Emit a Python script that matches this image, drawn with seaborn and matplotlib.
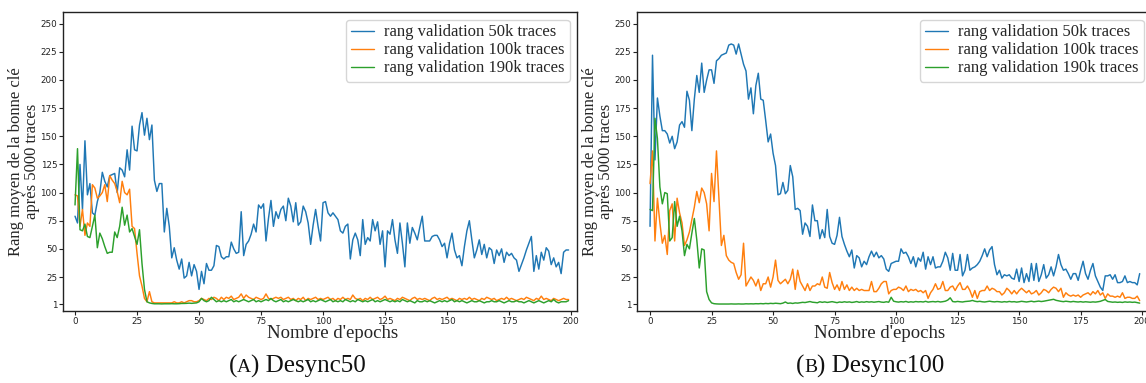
import numpy as np
import pandas as pd
import matplotlib
matplotlib.use("Agg")
import matplotlib.pyplot as plt
import seaborn as sns
from matplotlib.offsetbox import TextArea, HPacker, AnnotationBbox

# ---------------------------------------------------------------- data
series_labels = ["rang validation 50k traces",
                 "rang validation 100k traces",
                 "rang validation 190k traces"]

# Desync50
d50_50k = [
    79, 73, 125, 85, 146, 98, 108, 82, 80, 92,
    100, 118, 110, 105, 115, 116, 117, 100, 122, 120,
    114, 138, 120, 159, 138, 137, 160, 171, 151, 166,
    147, 160, 111, 101, 108, 108, 65, 86, 70, 42,
    51, 40, 32, 41, 24, 26, 38, 26, 36, 30,
    14, 30, 19, 37, 31, 31, 35, 53, 52, 43,
    41, 43, 43, 56, 50, 46, 47, 83, 44, 54,
    57, 63, 72, 65, 89, 86, 90, 57, 77, 93,
    70, 83, 77, 85, 88, 75, 95, 88, 74, 91,
    71, 74, 88, 83, 73, 54, 71, 85, 70, 57,
    91, 92, 82, 79, 82, 79, 76, 66, 64, 70,
    72, 41, 58, 64, 58, 44, 76, 54, 60, 57,
    76, 66, 74, 54, 66, 34, 66, 63, 76, 58,
    46, 73, 55, 34, 73, 55, 69, 64, 58, 69,
    79, 57, 57, 57, 61, 62, 62, 58, 52, 55,
    42, 55, 64, 49, 42, 44, 35, 52, 66, 75,
    58, 42, 49, 58, 45, 54, 42, 51, 49, 37,
    49, 44, 50, 38, 47, 44, 46, 42, 40, 30,
    36, 42, 49, 55, 61, 30, 44, 32, 47, 40,
    51, 48, 36, 42, 34, 38, 28, 47, 49, 49,
]
d50_100k = [
    98, 97, 70, 85, 62, 73, 70, 107, 104, 95,
    97, 100, 107, 92, 115, 111, 108, 101, 91, 110,
    100, 98, 103, 70, 68, 46, 26, 17, 6, 3,
    12, 3, 2, 2, 2, 2, 2, 2, 2, 2,
    3, 2, 2, 3, 2, 3, 4, 4, 3, 3,
    4, 6, 5, 4, 6, 5, 7, 6, 4, 7,
    5, 7, 6, 8, 5, 6, 7, 10, 6, 9,
    7, 6, 5, 7, 6, 5, 6, 10, 6, 5,
    6, 7, 6, 7, 5, 6, 7, 5, 6, 4,
    6, 5, 7, 4, 6, 5, 6, 7, 5, 6,
    5, 6, 7, 5, 6, 4, 6, 5, 7, 5,
    6, 5, 9, 6, 5, 6, 4, 6, 5, 7,
    5, 6, 7, 5, 6, 8, 5, 6, 5, 4,
    6, 5, 7, 6, 5, 4, 6, 7, 5, 6,
    5, 6, 5, 4, 6, 7, 5, 6, 5, 6,
    7, 5, 6, 5, 4, 6, 5, 6, 5, 7,
    5, 6, 5, 4, 6, 5, 7, 6, 5, 6,
    4, 5, 6, 5, 7, 5, 6, 5, 4, 5,
    6, 5, 7, 6, 5, 4, 6, 5, 8, 5,
    6, 5, 4, 6, 5, 4, 5, 6, 5, 5,
]
d50_190k = [
    89, 139, 67, 66, 72, 61, 60, 70, 80, 51,
    64, 59, 52, 46, 47, 47, 65, 60, 70, 87,
    71, 80, 65, 68, 61, 54, 67, 37, 14, 3,
    2, 1.5, 1.2, 1.2, 1.2, 1.1, 1.2, 1.2, 1.2, 1.3,
    1.2, 1.2, 1.3, 1.5, 1.5, 1.6, 1.8, 1.6, 1.8, 2,
    3, 6, 4, 3, 4, 7, 5, 3, 4, 3,
    4, 3, 4, 5, 3, 4, 3, 4, 5, 4,
    3, 4, 5, 3, 4, 3, 4, 5, 4, 6,
    4, 3, 4, 5, 3, 4, 3, 4, 5, 4,
    3, 4, 3, 4, 5, 3, 4, 3, 4, 5,
    4, 3, 4, 5, 3, 4, 3, 4, 3, 5,
    4, 3, 4, 3, 5, 4, 3, 4, 3, 4,
    5, 3, 4, 3, 4, 5, 4, 3, 4, 3,
    4, 3, 5, 4, 3, 4, 3, 2, 4, 3,
    3, 4, 3, 4, 3, 2, 3, 4, 3, 4,
    3, 4, 5, 3, 4, 3, 4, 3, 2, 3,
    4, 3, 3, 4, 3, 2, 3, 3, 4, 3,
    3, 4, 3, 2, 3, 4, 3, 3, 4, 3,
    3, 2, 3, 4, 3, 2, 3, 4, 3, 2,
    3, 4, 3, 5, 3, 2, 3, 3, 3, 4,
]

# Desync100
d100_50k = [
    70, 222, 129, 184, 168, 155, 155, 152, 144, 150,
    139, 145, 160, 163, 158, 190, 182, 155, 183, 204,
    189, 215, 189, 200, 209, 209, 197, 217, 219, 222,
    223, 224, 231, 232, 231, 223, 232, 223, 214, 208,
    183, 193, 170, 195, 206, 183, 182, 164, 145, 152,
    135, 124, 98, 99, 109, 99, 102, 124, 114, 85,
    86, 84, 63, 73, 70, 61, 89, 75, 75, 59,
    67, 60, 85, 61, 55, 54, 62, 78, 61, 54,
    48, 43, 49, 33, 44, 42, 34, 39, 36, 43,
    48, 43, 47, 42, 44, 41, 32, 30, 37, 38,
    39, 39, 50, 46, 47, 43, 37, 43, 34, 42,
    39, 47, 32, 43, 36, 43, 33, 34, 34, 39,
    47, 42, 31, 46, 31, 31, 45, 26, 31, 45,
    31, 33, 34, 36, 39, 44, 50, 43, 49, 52,
    36, 27, 31, 24, 27, 26, 27, 24, 23, 32,
    21, 33, 20, 28, 21, 37, 22, 37, 21, 27,
    36, 24, 27, 34, 26, 34, 45, 36, 31, 32,
    28, 23, 28, 28, 22, 31, 39, 28, 23, 31,
    37, 26, 21, 16, 13, 26, 26, 27, 23, 27,
    20, 20, 21, 26, 20, 21, 20, 20, 18, 28,
]
d100_100k = [
    108, 137, 57, 95, 73, 55, 62, 45, 84, 90,
    57, 95, 82, 73, 53, 58, 65, 76, 87, 101,
    91, 104, 100, 90, 66, 117, 92, 137, 95, 53,
    62, 44, 40, 38, 37, 29, 23, 27, 55, 17,
    21, 25, 22, 17, 23, 13, 19, 19, 25, 16,
    25, 40, 22, 19, 21, 23, 19, 23, 32, 14,
    31, 21, 17, 13, 19, 13, 17, 17, 19, 18,
    25, 16, 15, 29, 20, 14, 18, 13, 21, 14,
    18, 13, 16, 13, 15, 13, 14, 13, 13, 13,
    21, 12, 12, 15, 19, 21, 21, 10, 13, 14,
    14, 16, 15, 13, 17, 12, 14, 13, 14, 12,
    13, 11, 13, 6, 11, 14, 19, 14, 15, 21,
    13, 13, 16, 17, 13, 17, 20, 14, 14, 17,
    13, 7, 13, 6, 12, 13, 13, 17, 13, 15,
    14, 12, 12, 9, 11, 15, 13, 10, 13, 10,
    13, 15, 13, 11, 13, 10, 11, 13, 9, 11,
    14, 13, 11, 14, 16, 15, 12, 15, 7, 11,
    9, 8, 9, 8, 9, 7, 9, 10, 11, 9,
    12, 10, 13, 9, 11, 6, 10, 8, 8, 7,
    8, 7, 11, 6, 7, 7, 6, 6, 8, 4,
]
d100_190k = [
    85, 84, 166, 148, 105, 90, 100, 99, 57, 60,
    92, 70, 79, 66, 44, 54, 50, 64, 77, 58,
    33, 50, 49, 12, 5, 2, 1.3, 1.1, 1.0, 1.0,
    1.0, 1.0, 1.0, 1.1, 1.0, 1.0, 1.1, 1.0, 1.0, 1.2,
    1.1, 1.2, 1.1, 1.3, 1.2, 1.4, 1.2, 1.5, 1.3, 1.6,
    1.4, 1.7, 1.5, 1.3, 1.8, 2.8, 1.6, 1.9, 1.5, 2.0,
    1.8, 2.2, 2.5, 2.3, 2.8, 3.2, 2.6, 2.4, 2.1, 3.0,
    2.5, 2.9, 2.4, 2.8, 3.1, 2.6, 2.2, 2.8, 2.5, 3.0,
    2.6, 2.9, 2.4, 2.7, 3.2, 2.5, 2.9, 2.6, 3.1, 2.7,
    3.0, 2.6, 2.9, 3.2, 2.7, 2.5, 3.0, 2.6, 7.0, 3.5,
    3.0, 2.7, 3.1, 2.8, 3.3, 2.6, 3.0, 2.7, 3.2, 2.9,
    3.1, 2.8, 3.4, 2.7, 3.0, 3.2, 2.9, 3.3, 2.8, 3.1,
    3.5, 4.5, 6.5, 3.2, 2.9, 3.3, 3.0, 2.8, 3.2, 3.4,
    3.6, 4.2, 3.5, 3.1, 3.4, 3.0, 2.8, 3.2, 3.5, 3.1,
    2.9, 3.2, 3.0, 2.7, 3.1, 2.8, 3.3, 2.9, 3.1, 2.7,
    3.0, 3.4, 3.1, 2.8, 3.2, 3.5, 3.0, 3.3, 3.6, 3.2,
    3.5, 3.9, 4.2, 4.6, 5.2, 4.3, 3.8, 3.4, 3.1, 3.5,
    3.2, 2.9, 3.3, 3.0, 2.8, 3.1, 2.7, 3.0, 2.8, 2.6,
    2.9, 2.7, 3.0, 3.4, 4.2, 5.0, 3.3, 2.9, 2.6, 2.8,
    2.5, 2.7, 2.4, 2.9, 2.6, 2.8, 2.5, 2.7, 2.3, 1.8,
]

y_ticks = [1, 25, 50, 75, 100, 125, 150, 175, 200, 225, 250]
x_ticks = [0, 25, 50, 75, 100, 125, 150, 175, 200]

panels = [
    {"series": [d50_50k, d50_100k, d50_190k], "tag": "A", "name": "Desync50"},
    {"series": [d100_50k, d100_100k, d100_190k], "tag": "B", "name": "Desync100"},
]

# ---------------------------------------------------------------- style
sns.set_theme(style="ticks")
plt.rcParams["font.family"] = ["DejaVu Sans"]
SERIF = ["Liberation Serif", "DejaVu Serif"]
colors = sns.color_palette("tab10", 3)

W, H = 1146, 383
fig = plt.figure(figsize=(W / 100, H / 100), dpi=100)

# axes boxes in pixels: (left, top, right, bottom)
boxes = [(63, 12, 577, 311), (637, 12, 1151, 311)]
xlims = [(-4.85, 202.4), (-5.3, 203.6)]
captions_x = [297, 870]
xlabel_x = [333, 880]

for i, panel in enumerate(panels):
    l, t, r, b = boxes[i]
    ax = fig.add_axes([l / W, 1 - b / H, (r - l) / W, (b - t) / H])
    for vals, lab, col in zip(panel["series"], series_labels, colors):
        df = pd.DataFrame({"epoch": np.arange(len(vals)), "rang": vals})
        sns.lineplot(data=df, x="epoch", y="rang", ax=ax, color=col,
                     linewidth=1.05, label=lab)
    ax.set_xlim(*xlims[i])
    ax.set_ylim(-5.2, 260.4)
    ax.set_xticks(x_ticks)
    ax.set_yticks(y_ticks)
    ax.tick_params(labelsize=6.3, length=3, width=0.8, colors="#222222",
                   labelcolor="#222222", pad=1.2)
    for s in ax.spines.values():
        s.set_linewidth(1.0)
        s.set_color("#222222")

    ax.set_ylabel("Rang moyen de la bonne clé\naprès 5000 traces",
                  family=SERIF, fontsize=12, linespacing=1.0)
    ax.yaxis.set_label_coords(-0.044, 0.5)
    ax.set_xlabel("")
    fig.text(xlabel_x[i] / W, 1 - 334 / H, "Nombre d'epochs", family=SERIF,
             fontsize=13.5, ha="center", va="center")

    leg = ax.legend(loc="upper right", prop={"family": SERIF, "size": 12},
                    handlelength=1.4, handletextpad=0.6, borderpad=0.3,
                    labelspacing=0.12, borderaxespad=0.45, frameon=True,
                    fancybox=True, framealpha=0.8, edgecolor="#cccccc")
    for line in leg.get_lines():
        line.set_linewidth(1.0)

    # caption with a small-capital panel tag
    parts = [
        TextArea("(", textprops=dict(family=SERIF, size=18, color="#111111")),
        TextArea(panel["tag"], textprops=dict(family=SERIF, size=14, color="#111111")),
        TextArea(") " + panel["name"], textprops=dict(family=SERIF, size=18, color="#111111")),
    ]
    pack = HPacker(children=parts, align="baseline", pad=0, sep=0)
    ab = AnnotationBbox(pack, (captions_x[i] / W, 1 - 366 / H),
                        xycoords="figure fraction", frameon=False,
                        box_alignment=(0.5, 0.5), pad=0)
    fig.add_artist(ab)

fig.savefig("out.png", dpi=100)
